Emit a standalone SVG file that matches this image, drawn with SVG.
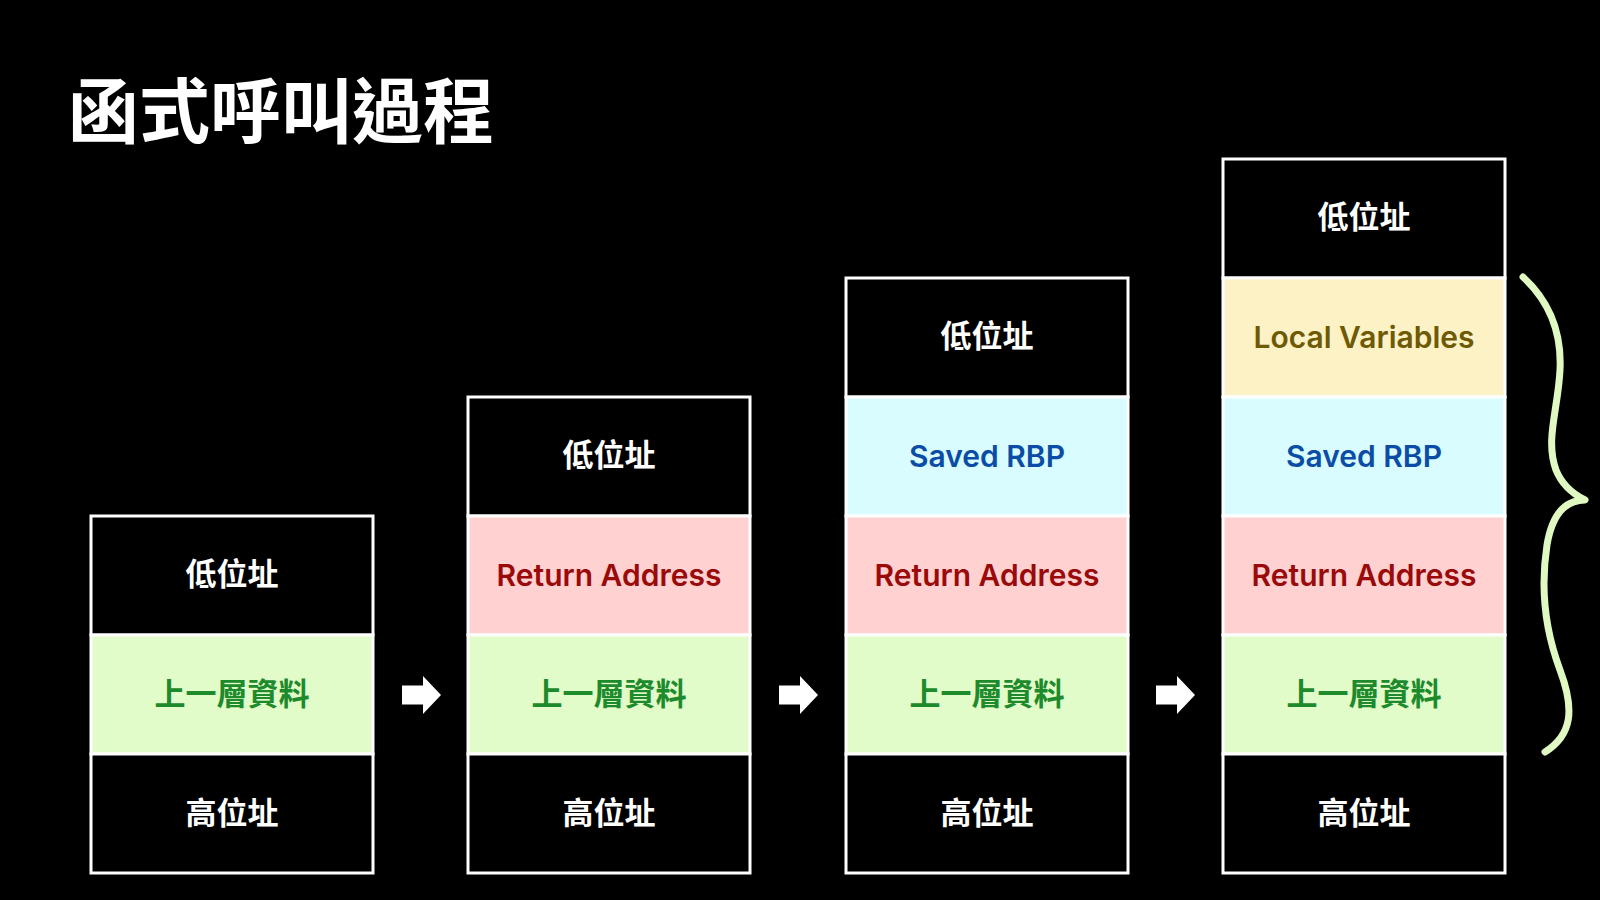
<svg xmlns="http://www.w3.org/2000/svg" xmlns:xlink="http://www.w3.org/1999/xlink" width="1600" height="900" viewBox="0 0 1600 900">
<style>
.cell{stroke:#ffffff;stroke-width:3}
.blk{fill:#000000}
.grn{fill:#e1fbc9}
.red{fill:#ffd1d1}
.cyn{fill:#d8fcff}
.yel{fill:#fdf1c6}
.cjk{font-family:"Noto Sans CJK TC","Noto Sans CJK SC",sans-serif;font-weight:700;font-size:31px;text-anchor:middle}
.en{font-family:Inter,"Noto Sans",sans-serif;font-weight:600;font-size:30px;text-anchor:middle}
.tw{fill:#ffffff}
.tg{fill:#1d8a2c}
.tr{fill:#9a0a0a}
.tb{fill:#0b4da6}
.ty{fill:#6e5a05}
.title{font-family:"Noto Sans CJK TC","Noto Sans CJK SC",sans-serif;font-weight:700;font-size:71px;fill:#ffffff}
</style>
<defs>
<polygon id="arr" points="0,-9.5 21,-9.5 21,-19 39,0 21,19 21,9.5 0,9.5" fill="#ffffff"/>
</defs>
<rect x="0" y="0" width="1600" height="900" fill="#000000"/>
<text class="title" x="68" y="137">函式呼叫過程</text>

<g id="stack1">
<rect class="cell blk" x="91" y="516" width="282" height="119"/>
<rect class="cell grn" x="91" y="635" width="282" height="119"/>
<rect class="cell blk" x="91" y="754" width="282" height="119"/>
<text class="cjk tw" x="232" y="585">低位址</text>
<text class="cjk tg" x="232" y="705">上一層資料</text>
<text class="cjk tw" x="232" y="824">高位址</text>
</g>

<g id="stack2">
<rect class="cell blk" x="468" y="397" width="282" height="119"/>
<rect class="cell red" x="468" y="516" width="282" height="119"/>
<rect class="cell grn" x="468" y="635" width="282" height="119"/>
<rect class="cell blk" x="468" y="754" width="282" height="119"/>
<text class="cjk tw" x="609" y="466">低位址</text>
<text class="en tr" x="609" y="586">Return Address</text>
<text class="cjk tg" x="609" y="705">上一層資料</text>
<text class="cjk tw" x="609" y="824">高位址</text>
</g>

<g id="stack3">
<rect class="cell blk" x="846" y="278" width="282" height="119"/>
<rect class="cell cyn" x="846" y="397" width="282" height="119"/>
<rect class="cell red" x="846" y="516" width="282" height="119"/>
<rect class="cell grn" x="846" y="635" width="282" height="119"/>
<rect class="cell blk" x="846" y="754" width="282" height="119"/>
<text class="cjk tw" x="987" y="347">低位址</text>
<text class="en tb" x="987" y="467">Saved RBP</text>
<text class="en tr" x="987" y="586">Return Address</text>
<text class="cjk tg" x="987" y="705">上一層資料</text>
<text class="cjk tw" x="987" y="824">高位址</text>
</g>

<g id="stack4">
<rect class="cell blk" x="1223" y="159" width="282" height="119"/>
<rect class="cell yel" x="1223" y="278" width="282" height="119"/>
<rect class="cell cyn" x="1223" y="397" width="282" height="119"/>
<rect class="cell red" x="1223" y="516" width="282" height="119"/>
<rect class="cell grn" x="1223" y="635" width="282" height="119"/>
<rect class="cell blk" x="1223" y="754" width="282" height="119"/>
<text class="cjk tw" x="1364" y="228">低位址</text>
<text class="en ty" x="1364" y="348">Local Variables</text>
<text class="en tb" x="1364" y="467">Saved RBP</text>
<text class="en tr" x="1364" y="586">Return Address</text>
<text class="cjk tg" x="1364" y="705">上一層資料</text>
<text class="cjk tw" x="1364" y="824">高位址</text>
</g>

<g id="connectors">
<use xlink:href="#arr" x="402" y="695"/>
<use xlink:href="#arr" x="779" y="695"/>
<use xlink:href="#arr" x="1156" y="695"/>
</g>

<g id="brace">
<path d="M1523,277 C1548,300 1562,330 1560,370 C1558,410 1545,440 1556,470 C1562,485 1575,495 1585,500 C1565,500 1552,515 1547,545 C1540,590 1545,630 1560,670 C1575,710 1572,735 1545,752" fill="none" stroke="#e0f8c2" stroke-width="7" stroke-linecap="round" stroke-linejoin="round"/>
</g>
</svg>
